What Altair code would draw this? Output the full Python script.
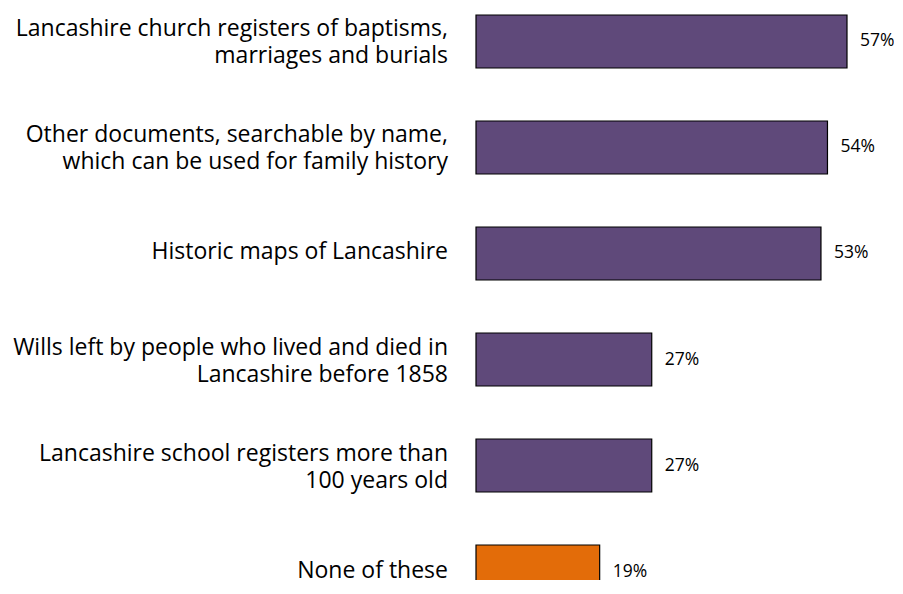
import altair as alt
import pandas as pd

labels = [
    "Lancashire church registers of baptisms,\nmarriages and burials",
    "Other documents, searchable by name,\nwhich can be used for family history",
    "Historic maps  of Lancashire",
    "Wills left by people who lived and died in\nLancashire before 1858",
    "Lancashire school registers more than\n100 years old",
    "None of these",
]
values = [57, 54, 53, 27, 27, 19]
groups = ["main", "main", "main", "main", "main", "none"]

df = pd.DataFrame({
    "id": list(range(len(labels))),
    "label": labels,
    "value": values,
    "group": groups,
    "pct": [f"{v}%" for v in values],
    "nlines": [len(s.split("\n")) for s in labels],
})

order = list(range(len(labels)))
y = alt.Y("id:O", sort=order, axis=None,
          scale=alt.Scale(paddingInner=0.5, paddingOuter=0.066, range=[0, 597]))
xs = alt.X("value:Q", axis=None, scale=alt.Scale(domain=[0, 57], nice=False))

base = alt.Chart(df)

bars = base.mark_bar(stroke="black", strokeWidth=1.2).encode(
    y=y, x=xs,
    color=alt.Color("group:N", legend=None,
                    scale=alt.Scale(domain=["main", "none"], range=["#5F497A", "#E36C09"])),
)

vals = base.mark_text(align="left", baseline="middle", dx=13, fontSize=17.5,
                      font="Open Sans", color="black").encode(
    y=y, x=xs, text="pct:N")

cats2 = base.transform_filter("datum.nlines == 2").mark_text(
    align="right", baseline="middle", fontSize=23, font="Open Sans", color="black",
    lineBreak="\n", lineHeight=27, dy=-12).encode(
    y=y, x=alt.value(-28), text="label:N")

cats1 = base.transform_filter("datum.nlines == 1").mark_text(
    align="right", baseline="middle", fontSize=23, font="Open Sans", color="black",
    dy=-1).encode(
    y=y, x=alt.value(-28), text="label:N")

chart = alt.layer(bars, vals, cats2, cats1).properties(
    width=371, height=572,
    autosize=alt.AutoSizeParams(type="none"),
    padding={"left": 468, "top": 0, "right": 47, "bottom": 0},
).configure_view(stroke=None)

chart.save("out.html", embed_options={"renderer": "svg", "actions": False})
